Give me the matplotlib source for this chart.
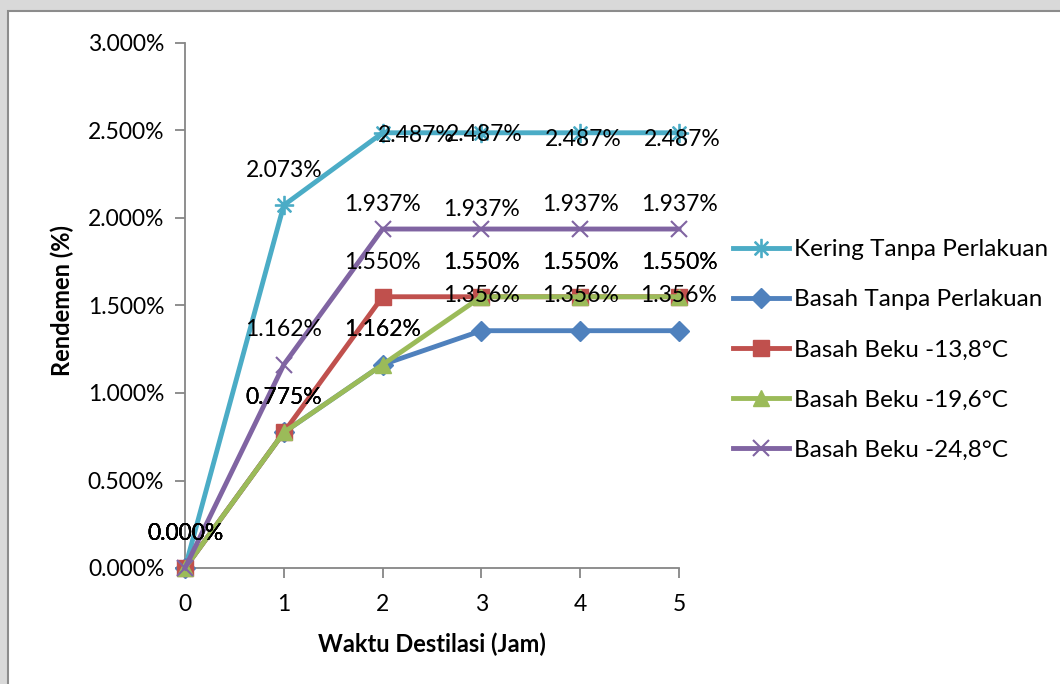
import matplotlib.pyplot as plt
from matplotlib.patches import Rectangle
from matplotlib.ticker import FuncFormatter

plt.rcParams['font.family'] = ['Lato', 'DejaVu Sans']

jam = [0, 1, 2, 3, 4, 5]
kering = [0.0, 2.073, 2.487, 2.487, 2.487, 2.487]
basah = [0.0, 0.775, 1.162, 1.356, 1.356, 1.356]
beku_138 = [0.0, 0.775, 1.550, 1.550, 1.550, 1.550]
beku_196 = [0.0, 0.775, 1.162, 1.550, 1.550, 1.550]
beku_248 = [0.0, 1.162, 1.937, 1.937, 1.937, 1.937]

names = ['Kering Tanpa Perlakuan', 'Basah Tanpa Perlakuan',
         'Basah Beku -13,8°C', 'Basah Beku -19,6°C', 'Basah Beku -24,8°C']
series = [kering, basah, beku_138, beku_196, beku_248]
colors = ['#4BACC6', '#4F81BD', '#C0504D', '#9BBB59', '#8064A2']
markers = ['$\u2733$', 'D', 's', '^', 'x']
msizes = [13, 10, 11, 12, 12]

fig = plt.figure(figsize=(10.6, 6.84), dpi=100)
fig.patch.set_facecolor('#d9d9d9')
# white chart area with thin grey frame
fig.patches.append(Rectangle((8 / 1060, -0.01), 1.02, 1 - 11 / 684 + 0.01,
                             transform=fig.transFigure, facecolor='white',
                             edgecolor='#8c8c8c', linewidth=1.5, zorder=-5))

ax = fig.add_axes([185 / 1060, 1 - 568 / 684, (679 - 185) / 1060, (568 - 43) / 684])
ax.set_facecolor('none')

for vals, name, c, m, ms in zip(series, names, colors, markers, msizes):
    ax.plot(jam, vals, color=c, lw=3.5, marker=m, ms=ms, mec=c, mfc=c,
            mew=1.5 if m == 'x' else 1, label=name, clip_on=False, zorder=3)

# data labels above each point; the top series sits beside its markers
for vals, name in zip(series, names):
    for i, (x, y) in enumerate(zip(jam, vals)):
        dx, dy = 0, 25
        if name == 'Kering Tanpa Perlakuan' and i >= 2:
            dx, dy = [24, 2, 2, 2][i - 2], [-2, -1, -5, -5][i - 2]
        elif name == 'Basah Beku -24,8°C' and i >= 2:
            dy = [18, 14, 18, 18][i - 2]
        ax.annotate(f'{y:.3f}%', (x, y), xytext=(dx, dy), textcoords='offset points',
                    ha='center', va='center', fontsize=16.5, color='black', zorder=5,
                    annotation_clip=False)

ax.set_xlim(0, 5)
ax.set_ylim(0, 3.0)
ax.set_xticks(jam)
ax.set_yticks([0, 0.5, 1.0, 1.5, 2.0, 2.5, 3.0])
ax.yaxis.set_major_formatter(FuncFormatter(lambda v, p: f'{v:.3f}%'))
for s in ['top', 'right']:
    ax.spines[s].set_visible(False)
for s in ['left', 'bottom']:
    ax.spines[s].set_color('#868686')
    ax.spines[s].set_linewidth(1.3)
ax.tick_params(axis='both', direction='out', length=7, width=1.3, color='#868686',
               labelsize=16.5, pad=8)
ax.tick_params(axis='x', pad=12)

ax.set_xlabel('Waktu Destilasi (Jam)', fontsize=17, fontweight='bold', labelpad=12)
ax.set_ylabel('Rendemen (%)', fontsize=17, fontweight='bold', va='center')
ax.yaxis.set_label_coords(-0.249, 0.51)

ax.legend(loc='center left', bbox_to_anchor=(1.085, 0.415), frameon=False,
          fontsize=17.5, handlelength=2.3, handletextpad=0.2, labelspacing=1.2,
          borderpad=0)

fig.savefig('out.png', dpi=100, facecolor=fig.get_facecolor())
